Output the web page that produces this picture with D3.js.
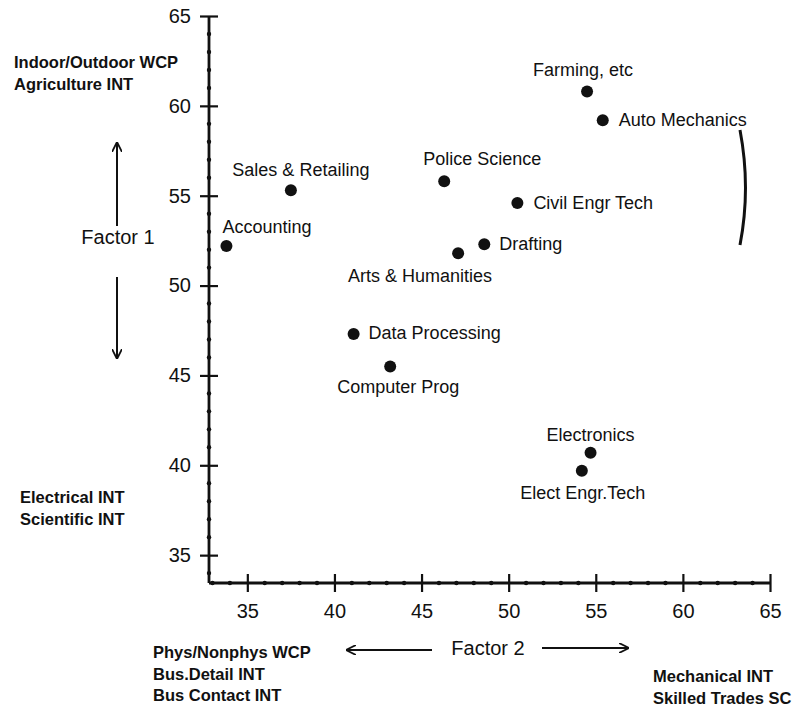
<!DOCTYPE html>
<html>
<head>
<meta charset="utf-8">
<script src="https://cdn.jsdelivr.net/npm/d3@7"></script>
<style>
    body { margin: 0; background: #fff; }
    text { font-family: "Liberation Sans", Arial, Helvetica, sans-serif; fill: #111; }
</style>
</head>
<body>
<div id="chart"></div>
<script>
// Program names and their (Factor 2, Factor 1) scores
const programs = ["Accounting", "Sales & Retailing", "Police Science", "Farming, etc", "Auto Mechanics",
    "Civil Engr Tech", "Drafting", "Arts & Humanities", "Data Processing", "Computer Prog",
    "Electronics", "Elect Engr.Tech"];
const factor2 = [33.8, 37.5, 46.3, 54.5, 55.4, 50.5, 48.6, 47.1, 41.1, 43.2, 54.7, 54.2];
const factor1 = [52.2, 55.3, 55.8, 60.8, 59.2, 54.6, 52.3, 51.8, 47.3, 45.5, 40.7, 39.7];

const xTicks = [35, 40, 45, 50, 55, 60, 65];
const yTicks = [35, 40, 45, 50, 55, 60, 65];

// where each label sits relative to its dot
const labelPlacement = {
    "Accounting":        {anchor: "start",  dx: -4,  dy: -13},
    "Sales & Retailing": {anchor: "middle", dx: 10,  dy: -14},
    "Police Science":    {anchor: "start",  dx: -21, dy: -16},
    "Farming, etc":      {anchor: "middle", dx: -4,  dy: -15},
    "Auto Mechanics":    {anchor: "start",  dx: 16,  dy: 6},
    "Civil Engr Tech":   {anchor: "start",  dx: 16,  dy: 6},
    "Drafting":          {anchor: "start",  dx: 15,  dy: 6},
    "Arts & Humanities": {anchor: "end",    dx: 34,  dy: 29},
    "Data Processing":   {anchor: "start",  dx: 15,  dy: 5},
    "Computer Prog":     {anchor: "middle", dx: 8,   dy: 27},
    "Electronics":       {anchor: "middle", dx: 0,   dy: -12},
    "Elect Engr.Tech":   {anchor: "middle", dx: 1,   dy: 28}
};

const W = 802, H = 706;

const svg = d3.select("#chart").append("svg")
    .attr("width", W)
    .attr("height", H);

svg.append("rect").attr("width", W).attr("height", H).attr("fill", "#fff");

svg.append("defs").append("marker")
    .attr("id", "arrow")
    .attr("viewBox", "0 0 10 10")
    .attr("refX", 9).attr("refY", 5)
    .attr("markerWidth", 10).attr("markerHeight", 10)
    .attr("markerUnits", "userSpaceOnUse")
    .attr("orient", "auto")
    .append("path")
    .attr("d", "M0,0 L10,5 L0,10")
    .attr("fill", "none")
    .attr("stroke", "#111")
    .attr("stroke-width", 1.8);

const x = d3.scaleLinear().domain([32.8, 65]).range([209, 770]);
const y = d3.scaleLinear().domain([33.45, 65]).range([583, 16]);

// axes
const xAxis = svg.append("g")
    .attr("transform", "translate(0," + y.range()[0] + ")")
    .call(d3.axisBottom(x).tickValues(xTicks).tickSize(10).tickSizeOuter(0).tickPadding(11));

const yAxis = svg.append("g")
    .attr("transform", "translate(" + x.range()[0] + ",0)")
    .call(d3.axisLeft(y).tickValues(yTicks).tickSize(10).tickSizeOuter(0).tickPadding(8));

[xAxis, yAxis].forEach(function(g) {
    g.select(".domain").attr("stroke", "#111").attr("stroke-width", 2.8);
    g.selectAll(".tick line").attr("stroke", "#111").attr("stroke-width", 2.2);
    g.selectAll(".tick text")
        .attr("font-family", "\"Liberation Sans\", Arial, sans-serif")
        .attr("font-size", 20)
        .attr("fill", "#111");
});
// make the major ticks cross the axis line
xAxis.selectAll(".tick line").attr("y1", -9).attr("y2", 9);
yAxis.selectAll(".tick line").attr("x1", -9).attr("x2", 9);

// the axis lines run from the origin to 65
xAxis.select(".domain").attr("d", "M" + x.range()[0] + ",0H" + x(65));
yAxis.select(".domain").attr("d", "M0," + y.range()[0] + "V" + y(65));

// small dots marking each unit
const minorX = d3.range(33, 66).filter(v => v % 5 !== 0);
const minorY = d3.range(34, 66).filter(v => v % 5 !== 0);

svg.append("g").selectAll("circle")
    .data(minorX)
    .enter().append("circle")
    .attr("cx", d => x(d))
    .attr("cy", y.range()[0])
    .attr("r", 2.2)
    .attr("fill", "#111");

svg.append("g").selectAll("circle")
    .data(minorY)
    .enter().append("circle")
    .attr("cx", x.range()[0])
    .attr("cy", d => y(d))
    .attr("r", 2.2)
    .attr("fill", "#111");

// points
const points = programs.map(function(name, i) {
    return {name: name, f2: factor2[i], f1: factor1[i]};
});

const pt = svg.append("g").selectAll("g")
    .data(points)
    .enter().append("g");

pt.append("circle")
    .attr("cx", d => x(d.f2))
    .attr("cy", d => y(d.f1))
    .attr("r", 6)
    .attr("fill", "#111");

pt.append("text")
    .attr("x", d => x(d.f2) + labelPlacement[d.name].dx)
    .attr("y", d => y(d.f1) + labelPlacement[d.name].dy)
    .attr("text-anchor", d => labelPlacement[d.name].anchor)
    .attr("font-size", 18)
    .text(d => d.name);

// bracket next to the upper right group
svg.append("path")
    .attr("d", "M740,130 Q751,188 740,245")
    .attr("fill", "none")
    .attr("stroke", "#111")
    .attr("stroke-width", 3);

// Factor 1 annotation on the left
svg.append("line")
    .attr("x1", 117).attr("y1", 226).attr("x2", 117).attr("y2", 143)
    .attr("stroke", "#111").attr("stroke-width", 2)
    .attr("marker-end", "url(#arrow)");
svg.append("line")
    .attr("x1", 117).attr("y1", 277).attr("x2", 117).attr("y2", 358)
    .attr("stroke", "#111").attr("stroke-width", 2)
    .attr("marker-end", "url(#arrow)");
svg.append("text")
    .attr("x", 118).attr("y", 244)
    .attr("text-anchor", "middle")
    .attr("font-size", 20)
    .text("Factor  1");

// Factor 2 annotation under the x axis
svg.append("line")
    .attr("x1", 432).attr("y1", 650).attr("x2", 347).attr("y2", 650)
    .attr("stroke", "#111").attr("stroke-width", 2)
    .attr("marker-end", "url(#arrow)");
svg.append("line")
    .attr("x1", 542).attr("y1", 648).attr("x2", 628).attr("y2", 648)
    .attr("stroke", "#111").attr("stroke-width", 2)
    .attr("marker-end", "url(#arrow)");
svg.append("text")
    .attr("x", 488).attr("y", 655)
    .attr("text-anchor", "middle")
    .attr("font-size", 20)
    .text("Factor  2");

// pole descriptions
const poleNotes = [
    {lines: ["Indoor/Outdoor WCP", "Agriculture INT"], x: 14, y: 68},
    {lines: ["Electrical INT", "Scientific INT"], x: 20, y: 503},
    {lines: ["Phys/Nonphys WCP", "Bus.Detail INT", "Bus Contact INT"], x: 153, y: 658},
    {lines: ["Mechanical INT", "Skilled Trades SC"], x: 653, y: 682}
];

poleNotes.forEach(function(n) {
    const t = svg.append("text")
        .attr("x", n.x).attr("y", n.y)
        .attr("font-size", 16.5)
        .attr("font-weight", "bold");
    n.lines.forEach(function(l, i) {
        t.append("tspan")
            .attr("x", n.x)
            .attr("dy", i === 0 ? 0 : 21.5)
            .text(l);
    });
});
</script>
</body>
</html>
